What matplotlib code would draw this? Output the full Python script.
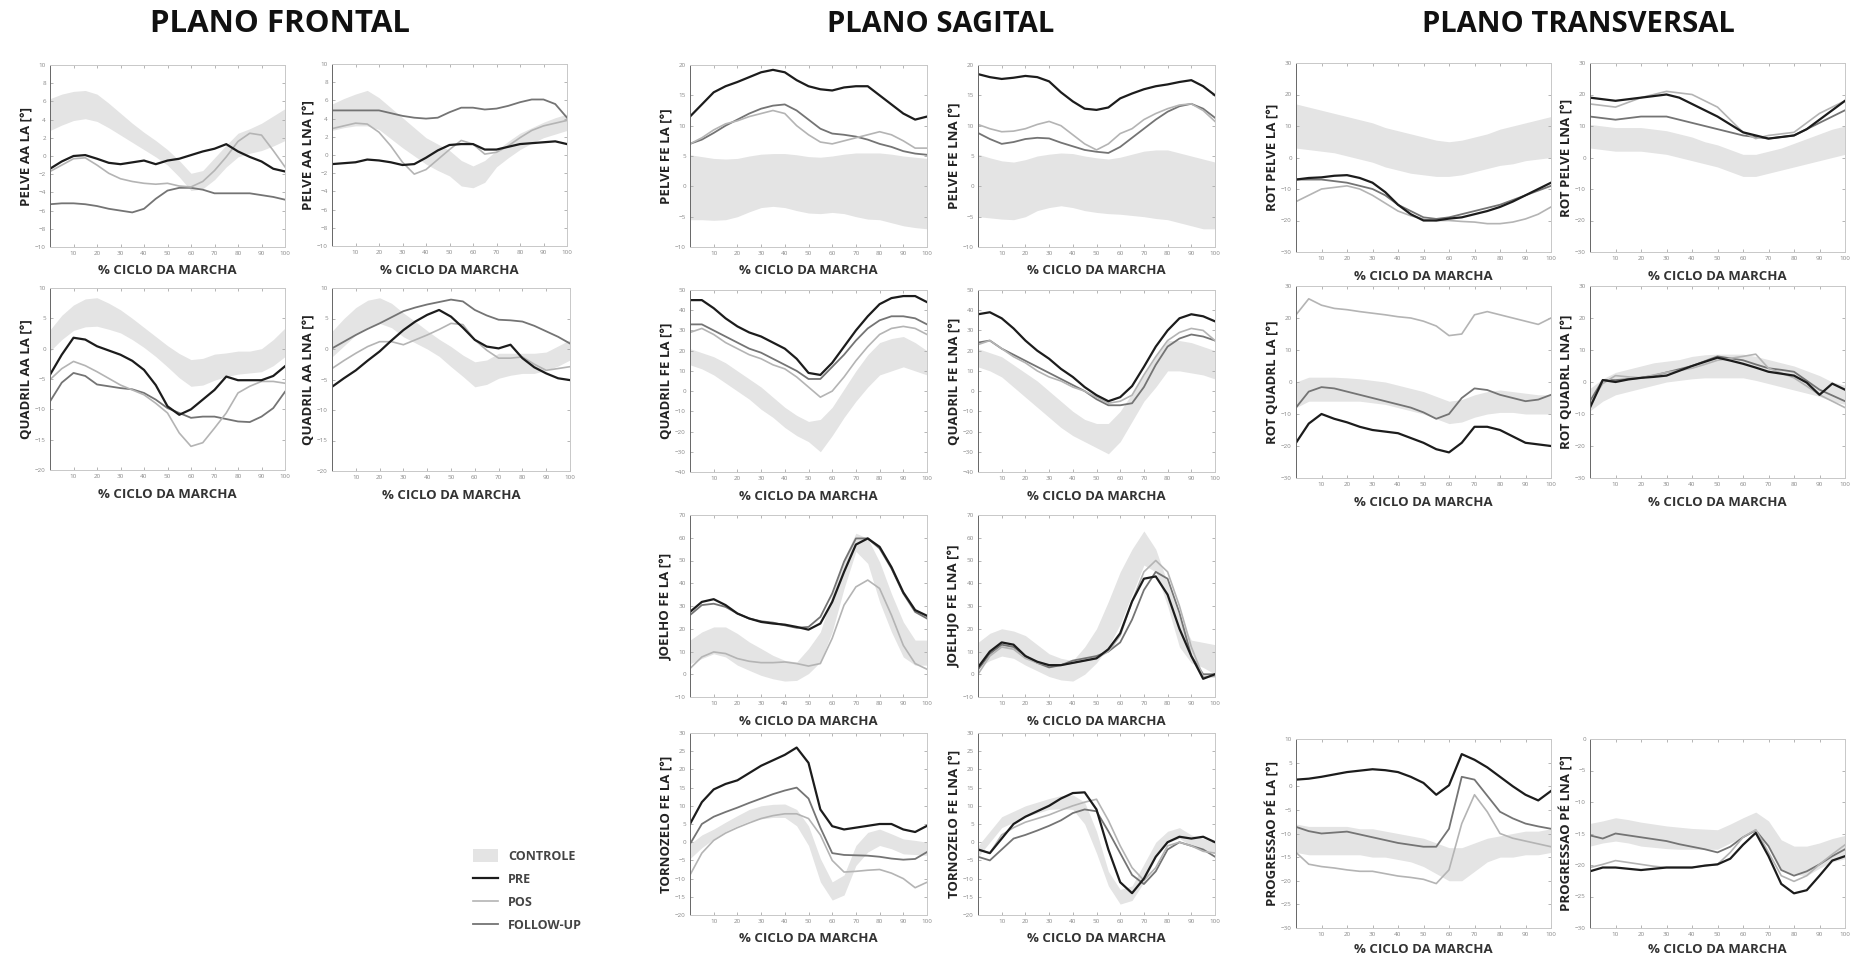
import matplotlib
matplotlib.use("Agg")
import matplotlib.pyplot as plt
from matplotlib.patches import Patch
from matplotlib.lines import Line2D
import numpy as np

plt.rcParams['font.family'] = ['Open Sans', 'DejaVu Sans']

# % do ciclo da marcha (grade comum de leitura)
PCT = [0, 5, 10, 15, 20, 25, 30, 35, 40, 45, 50, 55, 60, 65, 70, 75, 80, 85, 90, 95, 100]

# ---- PLANO FRONTAL ----
PELVE_AA_LA_LO = [2.8, 3.4, 3.9, 4.1, 3.8, 3.1, 2.3, 1.5, 0.7, -0.1, -1.0, -2.3, -3.8, -3.6, -2.6, -1.2, -0.1, 0.3, 0.6, 1.1, 1.7]
PELVE_AA_LA_HI = [6.3, 6.8, 7.1, 7.2, 6.8, 5.8, 4.7, 3.6, 2.6, 1.7, 0.7, -0.5, -1.9, -1.6, -0.2, 1.2, 2.5, 3.0, 3.6, 4.4, 5.2]
PELVE_AA_LA_PRE = [-1.4, -0.6, 0.0, 0.1, -0.3, -0.75, -0.9, -0.7, -0.5, -0.9, -0.5, -0.3, 0.1, 0.5, 0.8, 1.3, 0.5, -0.1, -0.6, -1.4, -1.7]
PELVE_AA_LA_POS = [-1.7, -1.0, -0.3, -0.2, -1.0, -1.9, -2.5, -2.8, -3.0, -3.1, -3.0, -3.3, -3.4, -2.8, -1.6, -0.1, 1.6, 2.5, 2.3, 0.6, -1.2]
PELVE_AA_LA_FU = [-5.3, -5.2, -5.2, -5.3, -5.5, -5.8, -6.0, -6.2, -5.8, -4.7, -3.8, -3.5, -3.5, -3.7, -4.1, -4.1, -4.1, -4.1, -4.3, -4.5, -4.8]

PELVE_AA_LNA_LO = [2.7, 3.0, 3.2, 3.2, 2.8, 1.8, 0.8, -0.1, -1.0, -1.7, -2.3, -3.4, -3.6, -3.0, -1.3, -0.3, 0.6, 1.3, 1.9, 2.3, 2.7]
PELVE_AA_LNA_HI = [5.6, 6.2, 6.7, 7.1, 6.3, 5.2, 4.1, 3.0, 1.9, 1.2, 0.5, -0.6, -1.2, -0.6, 0.5, 1.5, 2.4, 3.0, 3.6, 4.1, 4.5]
PELVE_AA_LNA_PRE = [-1.0, -0.9, -0.8, -0.5, -0.6, -0.8, -1.1, -1.0, -0.3, 0.5, 1.1, 1.2, 1.2, 0.6, 0.6, 0.9, 1.2, 1.3, 1.4, 1.5, 1.2]
PELVE_AA_LNA_POS = [2.9, 3.2, 3.5, 3.4, 2.5, 1.0, -0.8, -2.1, -1.6, -0.5, 0.6, 1.6, 1.2, 0.1, 0.3, 1.0, 1.9, 2.7, 3.2, 3.5, 3.8]
PELVE_AA_LNA_FU = [4.9, 4.9, 4.9, 4.9, 4.9, 4.6, 4.3, 4.1, 4.0, 4.1, 4.7, 5.2, 5.2, 5.0, 5.1, 5.4, 5.8, 6.1, 6.1, 5.6, 4.1]

QUADRIL_AA_LA_LO = [-0.4, 1.5, 3.0, 3.6, 3.7, 3.2, 2.6, 1.5, 0.2, -1.3, -3.0, -4.8, -6.2, -6.0, -5.2, -4.6, -4.2, -4.0, -3.8, -2.8, -1.3]
QUADRIL_AA_LA_HI = [3.1, 5.5, 7.2, 8.2, 8.4, 7.5, 6.4, 5.0, 3.5, 2.0, 0.5, -0.8, -1.8, -1.6, -0.9, -0.7, -0.4, -0.4, 0.0, 1.5, 3.4]
QUADRIL_AA_LA_PRE = [-4.3, -1.0, 1.8, 1.5, 0.4, -0.3, -1.0, -2.0, -3.5, -6.0, -9.5, -10.9, -10.0, -8.4, -6.8, -4.6, -5.2, -5.2, -5.2, -4.5, -2.9]
QUADRIL_AA_LA_POS = [-5.1, -3.3, -2.1, -2.8, -3.8, -4.9, -6.0, -6.8, -7.6, -9.0, -10.6, -13.9, -16.1, -15.5, -13.1, -10.6, -7.3, -6.2, -5.4, -5.4, -5.7]
QUADRIL_AA_LA_FU = [-8.7, -5.6, -4.0, -4.5, -5.9, -6.2, -6.5, -6.7, -7.3, -8.4, -9.8, -10.6, -11.4, -11.2, -11.2, -11.6, -12.0, -12.1, -11.2, -9.8, -7.1]

QUADRIL_AA_LNA_LO = [-1.3, 0.5, 2.3, 3.6, 4.2, 3.5, 2.0, 1.0, 0.0, -1.2, -2.9, -4.5, -6.2, -5.8, -4.8, -4.3, -4.0, -4.0, -3.5, -2.8, -1.8]
QUADRIL_AA_LNA_HI = [2.9, 5.0, 6.8, 8.0, 8.4, 7.5, 5.9, 4.5, 3.0, 1.6, 0.4, -1.0, -2.1, -1.8, -0.7, -0.7, -0.7, -0.7, -0.5, 0.5, 1.5]
QUADRIL_AA_LNA_PRE = [-6.2, -4.8, -3.5, -1.9, -0.4, 1.4, 3.1, 4.5, 5.6, 6.4, 5.3, 3.5, 1.5, 0.4, 0.1, 0.7, -1.5, -3.0, -4.0, -4.8, -5.1]
QUADRIL_AA_LNA_POS = [-3.2, -1.9, -0.7, 0.4, 1.2, 1.2, 0.7, 1.5, 2.3, 3.2, 4.2, 4.0, 1.5, -0.2, -1.5, -1.5, -1.3, -2.5, -3.5, -3.2, -2.9]
QUADRIL_AA_LNA_FU = [0.1, 1.2, 2.3, 3.3, 4.2, 5.2, 6.2, 6.8, 7.3, 7.7, 8.1, 7.8, 6.4, 5.5, 4.8, 4.7, 4.5, 3.8, 2.9, 2.0, 0.9]

# ---- PLANO SAGITAL ----
PELVE_FE_LA_LO = [-5.5, -5.5, -5.6, -5.5, -5.0, -4.2, -3.5, -3.3, -3.5, -4.0, -4.4, -4.5, -4.3, -4.5, -5.0, -5.4, -5.5, -6.0, -6.5, -6.8, -7.0]
PELVE_FE_LA_HI = [5.2, 4.9, 4.6, 4.5, 4.6, 5.0, 5.3, 5.4, 5.4, 5.2, 4.9, 4.8, 5.0, 5.3, 5.5, 5.5, 5.5, 5.3, 5.0, 4.8, 4.6]
PELVE_FE_LA_PRE = [11.5, 13.5, 15.5, 16.5, 17.2, 18.0, 18.8, 19.2, 18.8, 17.5, 16.5, 16.0, 15.8, 16.3, 16.5, 16.5, 15.0, 13.5, 12.0, 11.0, 11.5]
PELVE_FE_LA_POS = [7.0, 8.0, 9.3, 10.3, 10.8, 11.5, 12.0, 12.5, 12.0, 10.0, 8.5, 7.3, 7.0, 7.5, 8.0, 8.5, 9.0, 8.5, 7.5, 6.3, 6.3]
PELVE_FE_LA_FU = [7.0, 7.7, 8.8, 10.0, 11.0, 12.0, 12.8, 13.3, 13.5, 12.5, 11.0, 9.5, 8.7, 8.5, 8.2, 7.7, 7.0, 6.5, 5.8, 5.4, 5.2]

PELVE_FE_LNA_LO = [-5.0, -5.2, -5.4, -5.5, -5.0, -4.0, -3.5, -3.2, -3.5, -4.0, -4.3, -4.5, -4.6, -4.8, -5.0, -5.3, -5.5, -6.0, -6.5, -7.0, -7.0]
PELVE_FE_LNA_HI = [5.3, 4.7, 4.2, 4.0, 4.4, 5.0, 5.3, 5.5, 5.4, 5.0, 4.7, 4.5, 4.8, 5.3, 5.8, 6.0, 6.0, 5.5, 5.0, 4.5, 4.0]
PELVE_FE_LNA_PRE = [18.5, 18.0, 17.7, 17.9, 18.2, 18.0, 17.3, 15.5, 14.0, 12.8, 12.6, 13.0, 14.5, 15.3, 16.0, 16.5, 16.8, 17.2, 17.5, 16.5, 15.0]
PELVE_FE_LNA_POS = [10.2, 9.5, 9.0, 9.1, 9.5, 10.2, 10.7, 10.0, 8.5, 7.0, 6.0, 7.0, 8.7, 9.5, 11.0, 12.0, 12.8, 13.4, 13.6, 12.5, 10.7]
PELVE_FE_LNA_FU = [8.8, 7.8, 7.0, 7.3, 7.8, 8.0, 7.9, 7.2, 6.6, 6.0, 5.7, 5.5, 6.5, 8.0, 9.5, 11.0, 12.3, 13.2, 13.6, 12.8, 11.3]

QUADRIL_FE_LA_LO = [13, 11, 8, 4, 0, -4, -9, -13, -18, -22, -25, -30, -22, -13, -5, 2, 8, 10, 12, 10, 8]
QUADRIL_FE_LA_HI = [21, 19, 17, 14, 10, 6, 2, -3, -8, -12, -15, -14, -8, 1, 10, 18, 24, 26, 27, 24, 20]
QUADRIL_FE_LA_PRE = [45, 45, 41, 36, 32, 29, 27, 24, 21, 16, 9, 8, 14, 22, 30, 37, 43, 46, 47, 47, 44]
QUADRIL_FE_LA_POS = [29, 31, 28, 24, 21, 18, 16, 13, 11, 7, 2, -3, 0, 7, 15, 22, 28, 31, 32, 31, 28]
QUADRIL_FE_LA_FU = [33, 33, 30, 27, 24, 21, 19, 16, 13, 10, 6, 6, 12, 18, 25, 31, 35, 37, 37, 36, 33]

QUADRIL_FE_LNA_LO = [12, 10, 7, 2, -3, -8, -13, -18, -22, -25, -28, -31, -25, -15, -5, 2, 10, 10, 9, 8, 6]
QUADRIL_FE_LNA_HI = [21, 19, 17, 13, 9, 5, 0, -5, -10, -14, -16, -16, -10, -1, 8, 17, 25, 25, 24, 22, 20]
QUADRIL_FE_LNA_PRE = [38, 39, 36, 31, 25, 20, 16, 11, 7, 2, -2, -5, -3, 2.5, 12, 22, 30, 36, 38, 37, 34.5]
QUADRIL_FE_LNA_POS = [23, 25, 21, 17, 14, 10, 7, 5, 2, 0, -3, -6, -5, -2, 8, 17, 25, 29, 31, 30, 25]
QUADRIL_FE_LNA_FU = [24, 25, 21, 18, 15, 12, 9, 6, 3, 0, -4, -7, -7, -6, 2, 13, 22, 26, 28, 27, 25]

JOELHO_FE_LA_LO = [4.6, 6.9, 9.0, 7.6, 4.0, 1.7, -0.5, -2.0, -3.0, -2.7, 0.3, 5.4, 18.6, 37.7, 54.0, 48.7, 31.8, 18.6, 7.6, 4.0, 4.0]
JOELHO_FE_LA_HI = [15.0, 18.6, 20.8, 20.8, 17.9, 14.2, 11.3, 8.3, 6.1, 5.4, 11.3, 18.6, 34.8, 51.0, 62.0, 59.7, 49.4, 35.4, 23.0, 15.0, 15.0]
JOELHO_FE_LA_PRE = [27.4, 31.8, 33.0, 30.4, 26.7, 24.5, 23.0, 22.3, 21.8, 20.8, 19.6, 22.3, 31.8, 45.0, 57.0, 59.7, 56.0, 47.1, 36.0, 28.2, 25.7]
JOELHO_FE_LA_POS = [2.5, 7.6, 9.8, 9.1, 6.9, 5.7, 5.1, 5.1, 5.4, 4.7, 3.6, 4.7, 15.8, 30.4, 38.4, 41.4, 37.7, 26.0, 12.7, 4.7, 2.2]
JOELHO_FE_LA_FU = [26.0, 30.4, 31.0, 29.6, 26.7, 24.5, 23.3, 22.7, 21.5, 20.4, 20.8, 25.2, 35.5, 49.5, 59.7, 59.7, 55.3, 46.5, 35.5, 27.4, 24.5]

JOELHO_FE_LNA_LO = [3, 6, 8, 7, 4, 1.5, -1, -2.5, -3, 0, 5, 12, 22, 35, 48, 45, 30, 12, 5, 3, 0]
JOELHO_FE_LNA_HI = [14, 18, 20, 19, 17, 13, 9, 7, 6, 12, 20, 32, 45, 55, 63, 55, 40, 25, 15, 14, 13]
JOELHO_FE_LNA_PRE = [3, 10, 14, 13, 8, 5.5, 4, 4, 5, 6, 7, 11, 18, 32, 42, 43, 35, 20, 8, -2, 0]
JOELHO_FE_LNA_POS = [0, 8, 12, 11, 7, 5, 4, 4, 5, 6, 7, 10, 17, 32, 45, 50, 45, 30, 12, -1, -1]
JOELHO_FE_LNA_FU = [2, 9, 13, 12, 8, 5, 3, 4, 6, 7, 8, 10, 14, 24, 37, 45, 42, 27, 8, 0, 0]

TORNOZELO_FE_LA_LO = [-4.5, -1.5, 0.9, 3.0, 4.5, 5.8, 6.4, 6.8, 6.8, 4.5, -0.9, -10.9, -15.9, -14.5, -6.4, -2.7, -0.9, -1.8, -3.2, -3.4, -3.6]
TORNOZELO_FE_LA_HI = [-0.5, 2.0, 3.6, 5.5, 7.3, 9.0, 10.0, 10.4, 10.5, 9.0, 4.5, -4.5, -10.9, -9.0, -0.9, 2.7, 3.6, 2.3, 0.9, 0.5, 0.0]
TORNOZELO_FE_LA_PRE = [5, 11, 14.5, 16, 17, 19, 21, 22.5, 24, 26, 21.8, 9, 4.4, 3.5, 4, 4.5, 5, 5, 3.5, 2.8, 4.5]
TORNOZELO_FE_LA_POS = [-9, -3, 0.5, 2.5, 4, 5.3, 6.5, 7.3, 7.8, 7.8, 6.5, 2, -5, -8.2, -8, -7.7, -7.5, -8.5, -10, -12.5, -11]
TORNOZELO_FE_LA_FU = [-0.5, 5, 7, 8.3, 9.5, 10.8, 12, 13.2, 14.2, 15, 12, 4, -3, -3.5, -3.6, -3.7, -4, -4.5, -4.8, -4.6, -2.7]

TORNOZELO_FE_LNA_LO = [-4, 0, 4, 5.5, 7, 8, 9, 9.2, 9, 5, -3, -12, -17, -16, -11, -4, 0, 1, -1, -2, -3]
TORNOZELO_FE_LNA_HI = [-1, 3, 7, 8.5, 10, 11, 12, 12.8, 13, 11, 3, -8, -13, -12, -6, 0, 3, 4, 2, 1, 0]
TORNOZELO_FE_LNA_PRE = [-2, -3, 1, 5, 7, 8.5, 10, 12, 13.5, 13.7, 9, -2, -11, -14, -10, -4, 0, 1.5, 1, 1.5, 0]
TORNOZELO_FE_LNA_POS = [-2, -3, 2, 4, 5.5, 6.5, 7.5, 8.8, 10, 11, 11.8, 6, -1, -7, -10.5, -7, -1, 0, -1, -2.5, -3]
TORNOZELO_FE_LNA_FU = [-4, -5, -2, 1, 2, 3.2, 4.5, 6, 8, 9, 8.5, 3, -3, -9, -11.5, -8, -2, 0, -1, -2, -4]

# ---- PLANO TRANSVERSAL ----
ROT_PELVE_LA_LO = [3, 2.5, 2, 1.5, 0.5, -0.5, -1.5, -3, -4, -5, -5.5, -6, -6, -5.5, -4.5, -3.5, -2.5, -2, -1, -0.5, 0]
ROT_PELVE_LA_HI = [17, 16, 15, 14, 13, 12, 11, 9.5, 8.5, 7.5, 6.5, 5.5, 5, 5.5, 6.5, 7.5, 9, 10, 11, 12, 13]
ROT_PELVE_LA_PRE = [-7, -6.5, -6.3, -5.8, -5.6, -6.5, -8, -11, -15, -18, -20, -20, -19.4, -19, -18, -17, -15.7, -14, -12, -10, -8]
ROT_PELVE_LA_POS = [-14, -12, -10, -9.5, -9, -10, -12, -14.5, -17, -18.5, -19.5, -20, -20, -20.3, -20.5, -21, -21, -20.5, -19.5, -18, -15.7]
ROT_PELVE_LA_FU = [-7, -7, -7, -7.5, -8, -9, -10, -12, -15, -17, -19, -19.5, -19, -18, -17, -16, -15, -13.5, -12, -10.5, -9]

ROT_PELVE_LNA_LO = [3, 2.5, 2, 2, 2, 1.5, 1, 0, -1, -2, -3, -4.5, -6, -6, -5, -4, -3, -2, -1, 0, 1]
ROT_PELVE_LNA_HI = [10.5, 10, 9.5, 9.5, 9.5, 9, 8.5, 7.5, 6.5, 5, 4, 2.5, 1, 1, 2, 3, 4.5, 6, 7.5, 9, 10]
ROT_PELVE_LNA_PRE = [19, 18.5, 18, 18.5, 19, 19.5, 20, 19, 17, 15, 13, 10.5, 8, 7, 6, 6.5, 7, 9, 12, 15, 18]
ROT_PELVE_LNA_POS = [17, 16.5, 16, 17.5, 19, 20, 21, 20.5, 20, 18, 16, 12, 8, 6, 7, 7.5, 8, 11, 14, 16, 18]
ROT_PELVE_LNA_FU = [13, 12.5, 12, 12.5, 13, 13, 13, 12, 11, 10, 9, 8, 7, 6.5, 6, 6.5, 7, 9, 11, 13, 15]

ROT_QUADRL_LA_LO = [-8, -6, -6, -6, -6, -6, -6.5, -7, -8, -9, -10, -11.5, -13, -12.5, -11, -10, -9.5, -9.5, -10, -10, -10]
ROT_QUADRL_LA_HI = [0, 1.5, 1.5, 1.5, 1.3, 1, 0.5, 0, -1, -2, -3, -4.5, -6, -5.5, -4, -3, -2.5, -3, -3.5, -4, -4]
ROT_QUADRL_LA_PRE = [-19, -13, -10, -11.5, -12.6, -14, -15, -15.5, -16, -17.5, -19, -21, -22, -19, -14, -14, -15, -17, -19, -19.5, -20]
ROT_QUADRL_LA_POS = [21, 26, 24, 23, 22.6, 22, 21.5, 21, 20.4, 20, 19, 17.5, 14.5, 15, 21, 22, 21, 20, 19, 18, 20]
ROT_QUADRL_LA_FU = [-8, -3, -1.6, -2, -3, -4, -5, -6, -7, -8, -9.5, -11.5, -10, -5, -2, -2.5, -4, -5, -6, -5.5, -4]

ROT_QUADRL_LNA_LO = [-9, -6, -4, -3, -2, -1, 0, 0.5, 1, 1.3, 1.3, 1.3, 1.3, 0.5, -0.5, -1.5, -2.5, -3.5, -4.5, -6, -7]
ROT_QUADRL_LNA_HI = [-2, 1, 3, 4, 5, 6, 6.5, 7, 8, 8.5, 8.7, 8.7, 8.7, 8, 7, 6, 5, 3.5, 2, 0, -1]
ROT_QUADRL_LNA_PRE = [-8, 0.6, 0, 0.8, 1.3, 1.6, 2, 3.5, 5, 6.3, 7.6, 6.7, 5.7, 4.5, 3.2, 2.6, 2, -0.2, -4, -0.5, -2.4]
ROT_QUADRL_LNA_POS = [-6.8, -0.5, 2, 1.6, 1.3, 2.2, 3, 3.6, 4.3, 5.5, 6.8, 7.4, 8, 8.7, 4.3, 2.8, 1.3, -1.3, -4, -6, -8]
ROT_QUADRL_LNA_FU = [-6, 0.6, 0.6, 0.9, 1.3, 2, 3, 4, 5, 6.5, 8, 7.4, 6.8, 5.5, 4.3, 3.8, 3.2, 0.4, -2.4, -4.2, -6]

PROG_PE_LA_LO = [-14, -14.5, -14.5, -14.5, -14.5, -14.5, -15, -15, -15.5, -16, -17, -18.5, -20, -20, -18, -16, -15, -15, -14.5, -14.5, -14]
PROG_PE_LA_HI = [-8, -8.5, -8.5, -8.5, -8.5, -9, -9, -9.5, -10, -10.5, -11, -12, -13, -13, -12, -11, -10.5, -10, -9.5, -9.5, -9]
PROG_PE_LA_PRE = [1.4, 1.6, 2, 2.5, 3, 3.3, 3.6, 3.4, 3, 2, 0.7, -1.8, 0.2, 6.8, 5.6, 4, 2, 0, -1.8, -3, -1]
PROG_PE_LA_POS = [-14, -16.5, -17, -17.3, -17.7, -18, -18, -18.5, -19, -19.3, -19.7, -20.6, -17.7, -7.9, -1.8, -5.4, -10, -11, -11.6, -12.2, -12.8]
PROG_PE_LA_FU = [-8.6, -9.5, -10, -9.8, -9.6, -10.2, -10.8, -11.4, -12, -12.4, -12.8, -12.8, -9, 2, 1.4, -2, -5.4, -6.8, -7.9, -8.5, -9]

PROG_PE_LNA_LO = [-17, -16.5, -16.2, -16.5, -17, -17.2, -17.4, -17.5, -17.5, -17.5, -17.5, -16.5, -15.6, -14.4, -17, -20.8, -21.5, -21.7, -20.5, -19.5, -19]
PROG_PE_LNA_HI = [-13.4, -13, -12.5, -12.8, -13.2, -13.5, -13.8, -14, -14.2, -14.3, -14.4, -13.5, -12.5, -11.6, -13, -16, -17, -17, -16.5, -15.8, -15.3]
PROG_PE_LNA_PRE = [-21, -20.4, -20.4, -20.6, -20.8, -20.6, -20.4, -20.4, -20.4, -20.1, -19.9, -19, -16.8, -14.9, -18.6, -23, -24.5, -24, -21.7, -19.3, -18.6]
PROG_PE_LNA_POS = [-20.4, -19.9, -19.3, -19.6, -19.9, -20.2, -20.4, -20.4, -20.4, -20.1, -19.9, -18, -15.6, -14.4, -18, -21.7, -22.6, -21.7, -19.9, -18.3, -16.8]
PROG_PE_LNA_FU = [-15.3, -15.8, -15, -15.3, -15.6, -15.9, -16.2, -16.7, -17.1, -17.5, -18, -17.1, -15.6, -14.5, -17, -20.8, -21.7, -21, -19.9, -18.6, -17.5]

XTICKS = [10, 20, 30, 40, 50, 60, 70, 80, 90, 100]

C_BAND = '#e4e4e4'
C_PRE = '#1c1c1c'
C_POS = '#b4b4b4'
C_FU = '#747474'

W, H = 1852, 961
fig = plt.figure(figsize=(W / 100, H / 100), dpi=100)


def add_panel(px, ylabel, ylim, ystep, lo, hi, pre, pos, fu, xpad=6):
    left, right, top, bottom = px
    ax = fig.add_axes([left / W, 1 - bottom / H, (right - left) / W, (bottom - top) / H])
    ax.fill_between(PCT, lo, hi, color=C_BAND, lw=0)
    ax.plot(PCT, fu, color=C_FU, lw=1.3)
    ax.plot(PCT, pos, color=C_POS, lw=1.2)
    ax.plot(PCT, pre, color=C_PRE, lw=1.6)
    ax.set_xlim(0, 100)
    ax.set_ylim(*ylim)
    ax.set_xticks(XTICKS)
    ax.set_yticks(np.arange(ylim[0], ylim[1] + 0.1, ystep))
    ax.tick_params(direction='in', length=2, width=0.6, colors='#aaaaaa',
                   labelsize=4.5, labelcolor='#888888', top=True, right=True, pad=3)
    for s in ax.spines.values():
        s.set_color('#c8c8c8')
        s.set_linewidth(0.7)
    ax.spines['left'].set_color('#666666')
    ax.set_ylabel(ylabel, fontsize=9.5, fontweight='bold', color='#222222', labelpad=1)
    ax.set_xlabel('% CICLO DA MARCHA', fontsize=9.5, fontweight='bold', color='#333333', labelpad=xpad)
    return ax


# Frontal
add_panel((50, 285, 65, 247), 'PELVE AA LA [°]', (-10, 10), 2,
          PELVE_AA_LA_LO, PELVE_AA_LA_HI, PELVE_AA_LA_PRE, PELVE_AA_LA_POS, PELVE_AA_LA_FU)
add_panel((332, 567, 64, 246), 'PELVE AA LNA [°]', (-10, 10), 2,
          PELVE_AA_LNA_LO, PELVE_AA_LNA_HI, PELVE_AA_LNA_PRE, PELVE_AA_LNA_POS, PELVE_AA_LNA_FU)
add_panel((50, 285, 288, 470), 'QUADRIL AA LA [°]', (-20, 10), 5,
          QUADRIL_AA_LA_LO, QUADRIL_AA_LA_HI, QUADRIL_AA_LA_PRE, QUADRIL_AA_LA_POS, QUADRIL_AA_LA_FU)
add_panel((332, 570, 288, 471), 'QUADRIL AA LNA [°]', (-20, 10), 5,
          QUADRIL_AA_LNA_LO, QUADRIL_AA_LNA_HI, QUADRIL_AA_LNA_PRE, QUADRIL_AA_LNA_POS, QUADRIL_AA_LNA_FU)

# Sagital
SC1, SC2 = (690, 927), (978, 1215)
SROWS = [(65, 247), (290, 472), (515, 697), (733, 915)]
add_panel(SC1 + SROWS[0], 'PELVE FE LA [°]', (-10, 20), 5,
          PELVE_FE_LA_LO, PELVE_FE_LA_HI, PELVE_FE_LA_PRE, PELVE_FE_LA_POS, PELVE_FE_LA_FU)
add_panel(SC2 + SROWS[0], 'PELVE FE LNA [°]', (-10, 20), 5,
          PELVE_FE_LNA_LO, PELVE_FE_LNA_HI, PELVE_FE_LNA_PRE, PELVE_FE_LNA_POS, PELVE_FE_LNA_FU)
add_panel(SC1 + SROWS[1], 'QUADRIL FE LA [°]', (-40, 50), 10,
          QUADRIL_FE_LA_LO, QUADRIL_FE_LA_HI, QUADRIL_FE_LA_PRE, QUADRIL_FE_LA_POS, QUADRIL_FE_LA_FU)
add_panel(SC2 + SROWS[1], 'QUADRIL FE LNA [°]', (-40, 50), 10,
          QUADRIL_FE_LNA_LO, QUADRIL_FE_LNA_HI, QUADRIL_FE_LNA_PRE, QUADRIL_FE_LNA_POS, QUADRIL_FE_LNA_FU)
add_panel(SC1 + SROWS[2], 'JOELHO FE LA [°]', (-10, 70), 10,
          JOELHO_FE_LA_LO, JOELHO_FE_LA_HI, JOELHO_FE_LA_PRE, JOELHO_FE_LA_POS, JOELHO_FE_LA_FU)
add_panel(SC2 + SROWS[2], 'JOELHJO FE LNA [°]', (-10, 70), 10,
          JOELHO_FE_LNA_LO, JOELHO_FE_LNA_HI, JOELHO_FE_LNA_PRE, JOELHO_FE_LNA_POS, JOELHO_FE_LNA_FU)
add_panel(SC1 + SROWS[3], 'TORNOZELO FE LA [°]', (-20, 30), 5,
          TORNOZELO_FE_LA_LO, TORNOZELO_FE_LA_HI, TORNOZELO_FE_LA_PRE, TORNOZELO_FE_LA_POS, TORNOZELO_FE_LA_FU)
add_panel(SC2 + SROWS[3], 'TORNOZELO FE LNA [°]', (-20, 30), 5,
          TORNOZELO_FE_LNA_LO, TORNOZELO_FE_LNA_HI, TORNOZELO_FE_LNA_PRE, TORNOZELO_FE_LNA_POS, TORNOZELO_FE_LNA_FU)

# Transversal
TC1, TC2 = (1296, 1551), (1590, 1845)
add_panel(TC1 + (63, 252), 'ROT PELVE LA [°]', (-30, 30), 10,
          ROT_PELVE_LA_LO, ROT_PELVE_LA_HI, ROT_PELVE_LA_PRE, ROT_PELVE_LA_POS, ROT_PELVE_LA_FU)
add_panel(TC2 + (63, 252), 'ROT PELVE LNA [°]', (-30, 30), 10,
          ROT_PELVE_LNA_LO, ROT_PELVE_LNA_HI, ROT_PELVE_LNA_PRE, ROT_PELVE_LNA_POS, ROT_PELVE_LNA_FU)
add_panel(TC1 + (286, 478), 'ROT QUADRL LA [°]', (-30, 30), 10,
          ROT_QUADRL_LA_LO, ROT_QUADRL_LA_HI, ROT_QUADRL_LA_PRE, ROT_QUADRL_LA_POS, ROT_QUADRL_LA_FU)
add_panel(TC2 + (286, 478), 'ROT QUADRL LNA [°]', (-30, 30), 10,
          ROT_QUADRL_LNA_LO, ROT_QUADRL_LNA_HI, ROT_QUADRL_LNA_PRE, ROT_QUADRL_LNA_POS, ROT_QUADRL_LNA_FU)
add_panel(TC1 + (739, 928), 'PROGRESSAO PÉ LA [°]', (-30, 10), 5,
          PROG_PE_LA_LO, PROG_PE_LA_HI, PROG_PE_LA_PRE, PROG_PE_LA_POS, PROG_PE_LA_FU, xpad=4)
add_panel(TC2 + (739, 928), 'PROGRESSAO PÉ LNA [°]', (-30, 0), 5,
          PROG_PE_LNA_LO, PROG_PE_LNA_HI, PROG_PE_LNA_PRE, PROG_PE_LNA_POS, PROG_PE_LNA_FU, xpad=4)

# titulos
for tx, txt, fs in [(280, 'PLANO FRONTAL', 22.5), (941, 'PLANO SAGITAL', 21), (1578, 'PLANO TRANSVERSAL', 21)]:
    fig.text(tx / W, 1 - 24 / H, txt, ha='center', va='center',
             fontsize=fs, fontweight='bold', color='#111111')

handles = [Patch(facecolor=C_BAND, edgecolor='none'),
           Line2D([], [], color=C_PRE, lw=1.6),
           Line2D([], [], color=C_POS, lw=1.2),
           Line2D([], [], color=C_FU, lw=1.3)]
fig.legend(handles, ['CONTROLE', 'PRE', 'POS', 'FOLLOW-UP'],
           loc='upper left', bbox_to_anchor=(462 / W, 1 - 838 / H),
           frameon=False, handlelength=2.0, handleheight=1.2, labelspacing=0.75,
           prop={'size': 9, 'weight': 'bold'}, labelcolor='#444444')

fig.savefig('out.png', dpi=100)
